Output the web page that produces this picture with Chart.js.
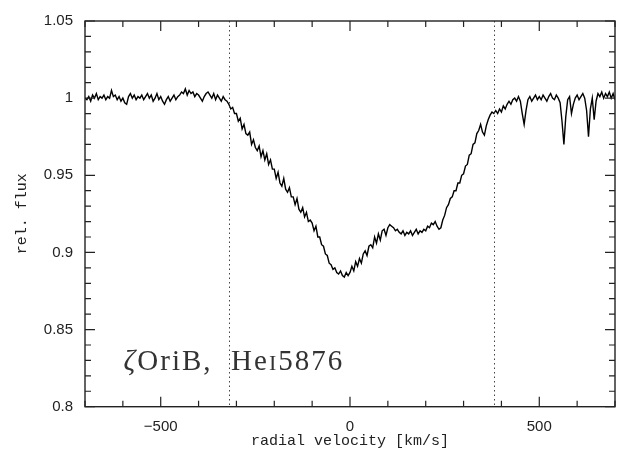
<!DOCTYPE html>
<html>
<head>
<meta charset="utf-8">
<script src="https://cdn.jsdelivr.net/npm/chart.js@4/dist/chart.umd.min.js"></script>
<style>
  body { margin: 0; background: #fff; }
  canvas { display: block; }
</style>
</head>
<body>
<canvas id="chart" width="624" height="452"></canvas>
<script>
// velocity grid in km/s
const vStart = -700;
const vStep = 5;

// rel. flux, one value every 5 km/s from -700 to 700
const flux = [
  1.000, 0.999, 1.001, 0.998, 1.002, 1.000, 1.003, 0.999, 1.001, 1.000,
  1.002, 0.999, 1.001, 1.000, 1.005, 1.001, 1.002, 0.999, 1.001, 0.998,
  1.000, 0.997, 0.996, 1.001, 1.003, 1.000, 1.002, 0.999, 1.001, 1.000,
  1.002, 0.999, 1.001, 1.003, 1.000, 1.002, 0.998, 1.000, 1.003, 0.999,
  1.001, 0.998, 0.996, 0.999, 1.001, 0.998, 1.000, 1.002, 0.999, 1.001,
  1.002, 1.004, 1.003, 1.006, 1.002, 1.005, 1.003, 1.004, 1.001, 1.003,
  1.002, 1.000, 0.998, 1.001, 1.003, 1.004, 1.002, 1.000, 1.003, 0.999,
  1.002, 1.000, 0.998, 1.001, 0.999, 0.998, 0.996, 0.993, 0.994, 0.990,
  0.990, 0.985, 0.987, 0.980, 0.983, 0.977, 0.976, 0.978, 0.970, 0.973,
  0.968, 0.966, 0.969, 0.962, 0.966, 0.960, 0.964, 0.957, 0.960, 0.954,
  0.954, 0.948, 0.952, 0.945, 0.943, 0.948, 0.941, 0.939, 0.942, 0.936,
  0.936, 0.931, 0.935, 0.928, 0.926, 0.929, 0.923, 0.926, 0.920, 0.921,
  0.919, 0.914, 0.917, 0.910, 0.910, 0.905, 0.904, 0.899, 0.898, 0.893,
  0.892, 0.889, 0.890, 0.887, 0.886, 0.888, 0.885, 0.884, 0.887, 0.885,
  0.887, 0.891, 0.888, 0.894, 0.891, 0.896, 0.893, 0.899, 0.901, 0.898,
  0.904, 0.905, 0.903, 0.910, 0.906, 0.912, 0.908, 0.914, 0.915, 0.911,
  0.916, 0.918, 0.917, 0.916, 0.914, 0.915, 0.913, 0.912, 0.914, 0.911,
  0.913, 0.912, 0.914, 0.911, 0.913, 0.915, 0.912, 0.914, 0.913, 0.915,
  0.914, 0.917, 0.916, 0.919, 0.918, 0.920, 0.917, 0.915, 0.916, 0.921,
  0.924, 0.929, 0.931, 0.935, 0.936, 0.940, 0.940, 0.945, 0.945, 0.950,
  0.951, 0.956, 0.957, 0.963, 0.964, 0.970, 0.971, 0.977, 0.979, 0.983,
  0.978, 0.976, 0.982, 0.986, 0.989, 0.991, 0.990, 0.992, 0.990, 0.993,
  0.991, 0.995, 0.993, 0.996, 0.998, 0.996, 0.999, 1.000, 0.998, 1.001,
  0.998, 0.990, 0.983, 0.992, 0.999, 1.001, 0.998, 1.000, 1.002, 0.999,
  1.001, 0.999, 1.002, 1.000, 0.998, 1.001, 1.003, 1.000, 0.999, 1.002,
  1.000, 0.997, 0.985, 0.970, 0.988, 0.999, 1.001, 0.990, 0.996, 1.000,
  1.002, 0.999, 1.001, 1.003, 1.000, 0.992, 0.975, 0.993, 1.000, 0.986,
  0.998, 1.003, 1.001, 1.004, 1.000, 1.003, 1.001, 1.004, 1.000, 1.003,
  0.999
];

const xTicks = [-500, 0, 500];
const yTicks = [0.8, 0.85, 0.9, 0.95, 1, 1.05];
const markerLines = [-320, 380];

const points = flux.map((f, i) => ({ x: vStart + i * vStep, y: f }));

// frame with inward ticks on all four sides, dotted markers and the label
const framePlugin = {
  id: "frame",
  afterDraw(chart) {
    const ctx = chart.ctx;
    const a = chart.chartArea;
    const xs = chart.scales.x;
    const ys = chart.scales.y;
    ctx.save();

    // dotted velocity limits
    ctx.strokeStyle = "#444";
    ctx.lineWidth = 1;
    ctx.setLineDash([1.5, 3]);
    markerLines.forEach(v => {
      const px = Math.round(xs.getPixelForValue(v)) + 0.5;
      ctx.beginPath();
      ctx.moveTo(px, a.top);
      ctx.lineTo(px, a.bottom);
      ctx.stroke();
    });
    ctx.setLineDash([]);

    ctx.strokeStyle = "#222";
    ctx.lineWidth = 1.4;
    ctx.strokeRect(a.left, a.top, a.right - a.left, a.bottom - a.top);

    ctx.lineWidth = 1.2;
    ctx.beginPath();
    for (let v = -700; v <= 700; v += 100) {
      const px = xs.getPixelForValue(v);
      const len = v % 500 === 0 ? 10 : 6;
      ctx.moveTo(px, a.bottom); ctx.lineTo(px, a.bottom - len);
      ctx.moveTo(px, a.top); ctx.lineTo(px, a.top + len);
    }
    for (let k = 80; k <= 105; k++) {
      const py = ys.getPixelForValue(k / 100);
      const len = k % 5 === 0 ? 10 : 6;
      ctx.moveTo(a.left, py); ctx.lineTo(a.left + len, py);
      ctx.moveTo(a.right, py); ctx.lineTo(a.right - len, py);
    }
    ctx.stroke();

    // label
    ctx.fillStyle = "#333";
    ctx.textBaseline = "alphabetic";
    ctx.letterSpacing = "2px";
    let tx = xs.getPixelForValue(-598);
    const ty = ys.getPixelForValue(0.8241);
    const parts = [["\u03B6", 29, "italic "], ["OriB,  He", 29, ""], ["I", 22, ""], ["5876", 29, ""]];
    parts.forEach(([s, size, style]) => {
      ctx.font = style + size + 'px "Liberation Serif"';
      ctx.fillText(s, tx, ty);
      tx += ctx.measureText(s).width;
    });
    ctx.restore();
  }
};

new Chart(document.getElementById("chart"), {
  type: "line",
  data: {
    datasets: [{
      data: points,
      borderColor: "#000",
      borderWidth: 1.4,
      pointRadius: 0,
      tension: 0,
      fill: false
    }]
  },
  options: {
    responsive: false,
    animation: false,
    layout: { padding: { top: 16.5, right: 9, left: 0, bottom: 0 } },
    plugins: { legend: { display: false }, tooltip: { enabled: false } },
    scales: {
      x: {
        type: "linear",
        min: -700,
        max: 700,
        afterBuildTicks: s => { s.ticks = xTicks.map(v => ({ value: v })); },
        afterFit: s => { s.height = 45.3; },
        grid: { display: false, drawTicks: false },
        border: { display: false },
        ticks: {
          padding: 11,
          color: "#222",
          font: { family: '"Liberation Sans"', size: 15 },
          callback: v => (v < 0 ? "\u2212" + Math.abs(v) : String(v))
        },
        title: {
          display: true,
          text: "radial velocity [km/s]",
          color: "#222",
          font: { family: '"Liberation Mono"', size: 15 },
          padding: { top: 0, bottom: 2 }
        }
      },
      y: {
        type: "linear",
        min: 0.8,
        max: 1.05,
        afterBuildTicks: s => { s.ticks = yTicks.map(v => ({ value: v })); },
        afterFit: s => { s.width = 85; },
        grid: { display: false, drawTicks: false },
        border: { display: false },
        ticks: {
          padding: 12,
          color: "#222",
          font: { family: '"Liberation Sans"', size: 15 },
          callback: v => String(Math.round(v * 100) / 100)
        },
        title: {
          display: true,
          text: "rel. flux",
          color: "#222",
          font: { family: '"Liberation Mono"', size: 15 },
          padding: { top: 13, bottom: 0 }
        }
      }
    }
  },
  plugins: [framePlugin]
});
</script>
</body>
</html>
